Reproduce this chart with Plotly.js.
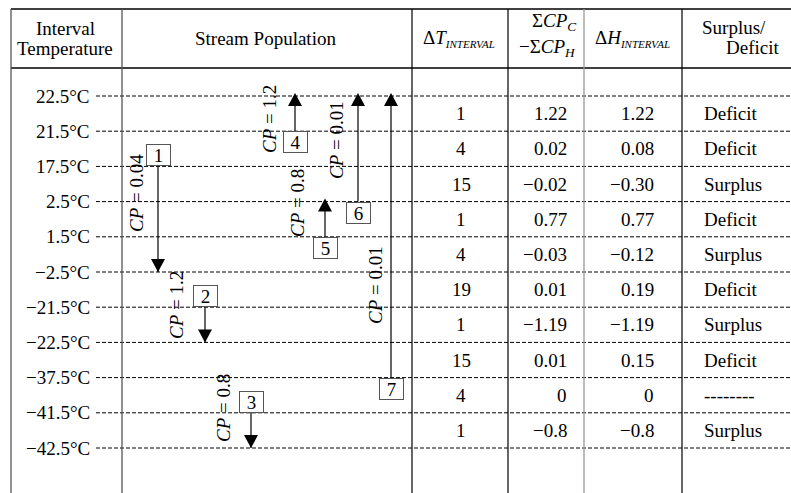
<!DOCTYPE html>
<html><head><meta charset="utf-8">
<script src="https://cdn.plot.ly/plotly-3.0.1.min.js"></script>
<style>html,body{margin:0;padding:0;background:#fff}</style>
</head><body>
<div id="chart" style="width:791px;height:493px"></div>
<script>
// ---------- data ----------
const temps = [22.5, 21.5, 17.5, 2.5, 1.5, -2.5, -21.5, -22.5, -37.5, -41.5, -42.5];
const dT = [1, 4, 15, 1, 4, 19, 1, 15, 4, 1];
const sumCP = ["1.22", "0.02", "−0.02", "0.77", "−0.03", "0.01", "−1.19", "0.01", "0", "−0.8"];
const dH = ["1.22", "0.08", "−0.30", "0.77", "−0.12", "0.19", "−1.19", "0.15", "0", "−0.8"];
const status = ["Deficit", "Deficit", "Surplus", "Deficit", "Surplus", "Deficit", "Surplus", "Deficit", "--------", "Surplus"];
const streamIds = [1, 2, 3, 4, 5, 6, 7];
const streamFrom = [17.5, -21.5, -41.5, 21.5, 1.5, 2.5, -37.5];
const streamTo = [-2.5, -22.5, -42.5, 22.5, 2.5, 22.5, 22.5];
const streamCP = ["0.04", "1.2", "0.8", "1.2", "0.8", "0.01", "0.01"];

// ---------- layout helpers ----------
const W = 791, H = 493, ROW0 = 96, ROWH = 35.2;
const p2i = px => (px - ROW0) / ROWH;
const streamX = [158, 205, 251, 295, 325, 358, 391];
const labelDx = [-22, -29, -28, -26, -28, -22, -16];
const labelPy = [193, 305, 408, 119, 203, 140, 285];
const colX = [412, 508, 682];
const greyCols = [[11, '#555'], [122, '#555'], [584, '#999']];
const FONT = "Liberation Serif, Times New Roman, serif";
const FS = 19;
const idx = t => temps.indexOf(t);
const fmtT = t => (t < 0 ? "−" + Math.abs(t) : String(t)) + "°C";
const ypap = px => 1 - px / H;

const traces = streamIds.map((id, k) => ({
  type: 'scatter', mode: 'lines',
  x: [streamX[k], streamX[k]],
  y: [idx(streamFrom[k]), idx(streamTo[k])],
  line: {color: '#000', width: 1.2},
  hoverinfo: 'skip', showlegend: false
}));

const shapes = [];
// frame
shapes.push({type: 'line', xref: 'x', yref: 'paper', x0: 11, x1: W, y0: ypap(9), y1: ypap(9), line: {color: '#000', width: 1.3}});
shapes.push({type: 'line', xref: 'x', yref: 'paper', x0: 11, x1: W, y0: ypap(68), y1: ypap(68), line: {color: '#000', width: 1.3}});
colX.forEach(x => shapes.push({type: 'line', xref: 'x', yref: 'paper', x0: x, x1: x, y0: 0, y1: ypap(9), line: {color: '#000', width: 1.2}}));
greyCols.forEach(([x, c]) => shapes.push({type: 'line', xref: 'x', yref: 'paper', x0: x, x1: x, y0: 0, y1: ypap(9), line: {color: c, width: 1.3}}));
// dashed temperature lines
temps.forEach((t, i) => shapes.push({type: 'line', xref: 'x', yref: 'y', x0: 96, x1: W, y0: i, y1: i, layer: 'below', line: {color: '#000', width: 1, dash: '4px,2px'}}));
// arrow heads
streamIds.forEach((id, k) => {
  const down = streamTo[k] < streamFrom[k];
  shapes.push({
    type: 'path', xref: 'x', yref: 'y', xsizemode: 'pixel', ysizemode: 'pixel',
    xanchor: streamX[k], yanchor: idx(streamTo[k]),
    path: down ? 'M-7,13 L7,13 L0,0 Z' : 'M-7,-10 L7,-10 L0,3 Z',
    fillcolor: '#000', line: {color: '#000', width: 0}
  });
});

const ann = [];
const txt = (x, y, text, xanchor, extra) => ann.push(Object.assign({
  x, y, xref: 'x', yref: 'y', text, showarrow: false, xanchor: xanchor || 'center', yanchor: 'middle',
  font: {family: FONT, size: FS, color: '#000'}
}, extra || {}));

// temperature labels
temps.forEach((t, i) => txt(92, i, fmtT(t), 'right'));
// table rows
dT.forEach((v, i) => {
  const y = i + 0.5;
  txt(461, y, String(v), 'center');
  txt(569, y, sumCP[i], 'right');
  txt(656, y, dH[i], 'right');
  txt(702, y, status[i], 'left');
});
// headers
txt(65, p2i(28), "Interval", 'center');
txt(65, p2i(48), "Temperature", 'center');
txt(265, p2i(38), "Stream Population", 'center');
txt(459, p2i(38), "Δ<i>T</i><sub><span style='font-size:11px'><i>INTERVAL</i></span></sub>", 'center');
txt(578, p2i(22), "Σ<i>CP</i><sub><i>C</i></sub>", 'right');
txt(578, p2i(48), "−Σ<i>CP</i><sub><i>H</i></sub>", 'right');
txt(632, p2i(38), "Δ<i>H</i><sub><span style='font-size:11px'><i>INTERVAL</i></span></sub>", 'center');
txt(700, p2i(27), "Surplus/", 'left');
txt(781, p2i(47), "Deficit", 'right');

// stream boxes and CP labels
streamIds.forEach((id, k) => {
  const down = streamTo[k] < streamFrom[k];
  ann.push({
    x: streamX[k], y: idx(streamFrom[k]), xref: 'x', yref: 'y', text: String(id), showarrow: false,
    xanchor: 'center', yanchor: down ? 'bottom' : 'top',
    width: 23, height: 20, borderpad: 0, borderwidth: 1, bordercolor: '#555', bgcolor: '#fff',
    font: {family: FONT, size: FS, color: '#000'}
  });
  txt(streamX[k] + labelDx[k], p2i(labelPy[k]), "<i>CP</i> = " + streamCP[k], 'center', {textangle: -90});
});

const layout = {
  width: W, height: H, margin: {l: 0, r: 0, t: 0, b: 0},
  paper_bgcolor: '#fff', plot_bgcolor: '#fff',
  xaxis: {range: [0, W], visible: false, fixedrange: true},
  yaxis: {range: [p2i(H), p2i(0)], visible: false, fixedrange: true},
  shapes, annotations: ann, showlegend: false
};
Plotly.newPlot('chart', traces, layout, {staticPlot: true, displayModeBar: false});
</script>
</body></html>
